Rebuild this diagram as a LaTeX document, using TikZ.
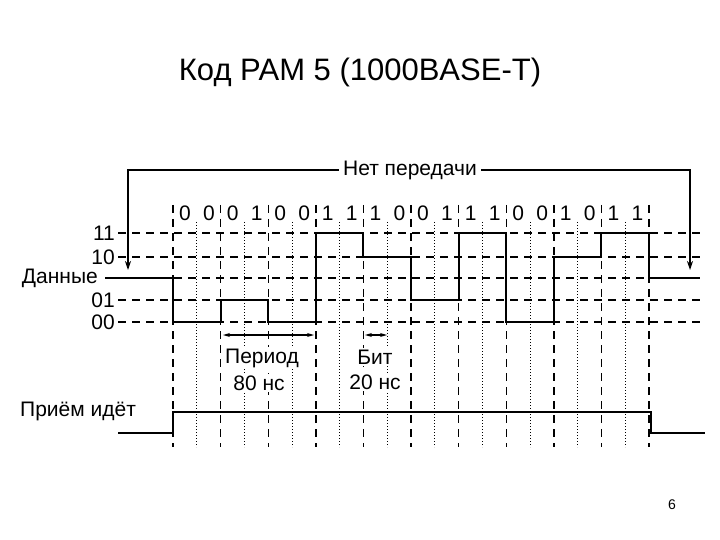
\documentclass[tikz,border=0pt]{standalone}
\usepackage{fontspec}
\setmainfont{Liberation Sans}
\usetikzlibrary{arrows.meta}
\begin{document}
\begin{tikzpicture}[x=1pt,y=-1pt,
  grid/.style={line width=1.4pt,dash pattern=on 8pt off 6pt},
  dotg/.style={line width=1pt,dotted},
  sig/.style={line width=2.8pt},
  lbl/.style={font=\fontsize{21}{24}\selectfont,inner sep=0pt},
  arr/.style={line width=1.1pt,-{Stealth[length=9pt,width=6pt]}},
  darr/.style={line width=1.1pt,{Stealth[length=7pt,width=4pt]}-{Stealth[length=7pt,width=4pt]}}]
\useasboundingbox (0,0) rectangle (720,540);
\node[font=\fontsize{31}{34}\selectfont] (title) at (360,72) {Код PAM 5 (1000BASE-T)};
\node[font=\fontsize{14}{16}\selectfont] (pg) at (672,505) {6};
% horizontal grid
\foreach \y/\t in {233/11,257/10,300/01,322/00}{
  \draw[grid] (118,\y) -- (700,\y);
  \node[lbl,anchor=east] at (115,\y) {\t};}
\draw[grid] (118,278) -- (700,278);
\node[lbl,anchor=east] (dan) at (98,278) {Данные};
% vertical grid
\foreach \i in {0,...,10}{
  \pgfmathsetmacro\xx{173+47.6*\i}
  \draw[grid] (\xx,205) -- (\xx,447);}
\foreach \i in {0,...,9}{
  \pgfmathsetmacro\xx{173+47.6*\i+23.8}
  \draw[dotg] (\xx,222) -- (\xx,447);}
% bit labels
\foreach \i/\a/\b in {0/0/0,1/0/1,2/0/0,3/1/1,4/1/0,5/0/1,6/1/1,7/0/0,8/1/0,9/1/1}{
  \pgfmathsetmacro\xa{173+47.6*\i+12}
  \pgfmathsetmacro\xb{173+47.6*\i+36}
  \node[lbl,fill=white,inner sep=1pt] at (\xa,213) {\a};
  \node[lbl,fill=white,inner sep=1pt] at (\xb,213) {\b};}
% signal
\draw[sig] (105,278) -- (173,278) -- (173,322) -- (221,322) -- (221,300) -- (268,300) -- (268,322)
 -- (316,322) -- (316,233) -- (363,233) -- (363,257) -- (411,257) -- (411,300) -- (459,300)
 -- (459,233) -- (506,233) -- (506,322) -- (554,322) -- (554,257) -- (601,257) -- (601,233)
 -- (649,233) -- (649,278) -- (700,278);
% Нет передачи
\node[lbl,fill=white,inner sep=4pt] (net) at (410,170) {Нет передачи};
\coordinate (la) at (128,270);
\coordinate (ra) at (690,270);
\draw[arr] (net.west) -| (la);
\draw[arr] (net.east) -| (ra);
% period/bit
\coordinate (p1) at (223,335); \coordinate (p2) at (314,335);
\draw[darr] (p1) -- (p2);
\coordinate (b1) at (365,335); \coordinate (b2) at (387,335);
\draw[darr] (b1) -- (b2);
\node[lbl,fill=white,inner sep=2pt] (per) at (262,358) {Период};
\node[lbl,fill=white,inner sep=2pt] (ns80) at (259,383) {80 нс};
\node[lbl,fill=white,inner sep=2pt] (bit) at (375,357) {Бит};
\node[lbl,fill=white,inner sep=2pt] (ns20) at (375,382) {20 нс};
% Приём идёт
\node[lbl,anchor=west] (pr) at (20,411) {Приём идёт};
\draw[sig] (118,433) -- (173,433) -- (173,412) -- (651,412) -- (651,433) -- (705,433);
\end{tikzpicture}
\end{document}
